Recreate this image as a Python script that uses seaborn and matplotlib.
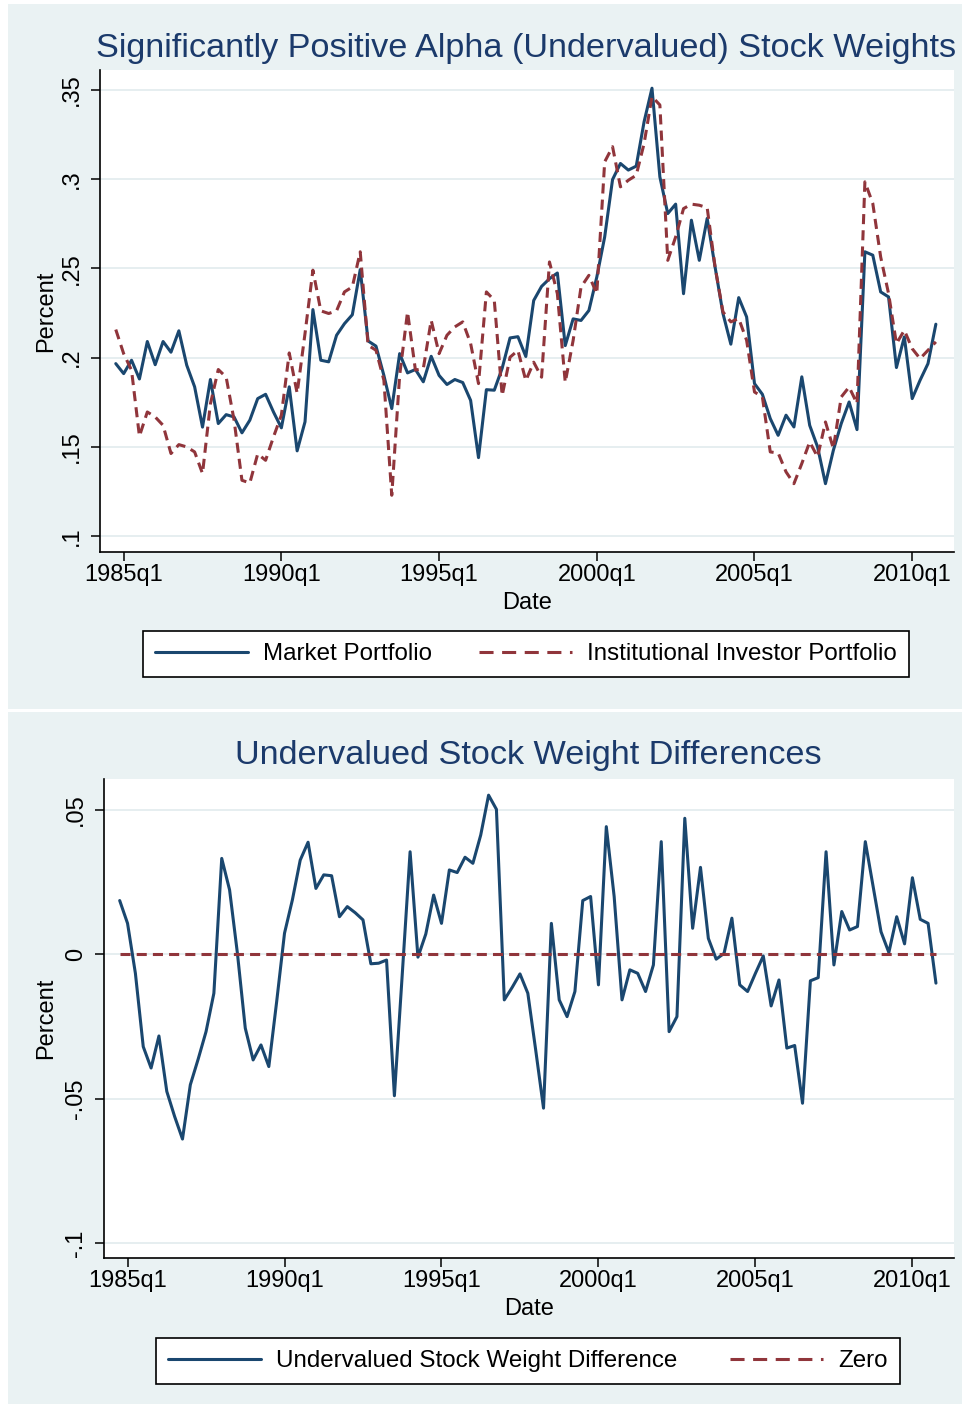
import numpy as np
import pandas as pd
import matplotlib
matplotlib.use("Agg")
import matplotlib.pyplot as plt
from matplotlib.patches import Rectangle
from matplotlib.lines import Line2D
import seaborn as sns

# ---------------- data ----------------
quarters = pd.period_range("1984Q4", "2010Q4", freq="Q")

market = [
    0.1966, 0.1910, 0.1985, 0.1880, 0.2090, 0.1960, 0.2090, 0.2030, 0.2150, 0.1957,
    0.1836, 0.1610, 0.1877, 0.1630, 0.1680, 0.1667, 0.1578, 0.1649, 0.1770, 0.1794,
    0.1695, 0.1606, 0.1836, 0.1477, 0.1640, 0.2269, 0.1985, 0.1976, 0.2125, 0.2190,
    0.2240, 0.2493, 0.2093, 0.2064, 0.1900, 0.1714, 0.2022, 0.1914, 0.1933, 0.1864,
    0.2007, 0.1900, 0.1849, 0.1877, 0.1860, 0.1760, 0.1439, 0.1820, 0.1817, 0.1940,
    0.2110, 0.2117, 0.2006, 0.2320, 0.2399, 0.2442, 0.2474, 0.2067, 0.2217, 0.2208,
    0.2264, 0.2451, 0.2676, 0.2998, 0.3088, 0.3051, 0.3073, 0.3322, 0.3510, 0.3013,
    0.2807, 0.2860, 0.2358, 0.2770, 0.2545, 0.2780, 0.2508, 0.2247, 0.2075, 0.2336,
    0.2228, 0.1854, 0.1794, 0.1658, 0.1564, 0.1677, 0.1611, 0.1892, 0.1620, 0.1499,
    0.1293, 0.1480, 0.1630, 0.1751, 0.1596, 0.2593, 0.2574, 0.2368, 0.2340, 0.1944,
    0.2116, 0.1770, 0.1873, 0.1966, 0.2187,
]

institutional = [
    0.2157, 0.2022, 0.1929, 0.1559, 0.1695, 0.1667, 0.1620, 0.1462, 0.1512, 0.1499,
    0.1471, 0.1350, 0.1740, 0.1933, 0.1890, 0.1650, 0.1312, 0.1297, 0.1460, 0.1424,
    0.1555, 0.1677, 0.2026, 0.1800, 0.2135, 0.2490, 0.2262, 0.2247, 0.2262, 0.2368,
    0.2396, 0.2593, 0.2069, 0.2041, 0.1873, 0.1228, 0.1900, 0.2256, 0.1930, 0.1938,
    0.2209, 0.2022, 0.2125, 0.2172, 0.2200, 0.2079, 0.1854, 0.2368, 0.2321, 0.1787,
    0.2002, 0.2040, 0.1871, 0.1974, 0.1890, 0.2536, 0.2358, 0.1861, 0.2096, 0.2395,
    0.2461, 0.2358, 0.3097, 0.3182, 0.2957, 0.2994, 0.3022, 0.3200, 0.3463, 0.3416,
    0.2545, 0.2676, 0.2835, 0.2860, 0.2854, 0.2840, 0.2508, 0.2256, 0.2200, 0.2219,
    0.2097, 0.1807, 0.1779, 0.1471, 0.1465, 0.1359, 0.1293, 0.1406, 0.1527, 0.1443,
    0.1639, 0.1490, 0.1779, 0.1835, 0.1742, 0.2985, 0.2864, 0.2564, 0.2359, 0.2078,
    0.2153, 0.2050, 0.1994, 0.2041, 0.2088,
]

difference = [
    0.0186, 0.0107, -0.0066, -0.0320, -0.0394, -0.0283, -0.0475, -0.0562, -0.0640, -0.0452,
    -0.0363, -0.0268, -0.0135, 0.0332, 0.0223, 0.0003, -0.0256, -0.0366, -0.0314, -0.0389,
    -0.0164, 0.0073, 0.0188, 0.0326, 0.0388, 0.0228, 0.0275, 0.0272, 0.0130, 0.0165,
    0.0144, 0.0119, -0.0033, -0.0031, -0.0020, -0.0490, -0.0070, 0.0355, -0.0010, 0.0070,
    0.0205, 0.0107, 0.0292, 0.0283, 0.0336, 0.0315, 0.0413, 0.0551, 0.0502, -0.0158,
    -0.0115, -0.0068, -0.0135, -0.0331, -0.0533, 0.0107, -0.0158, -0.0216, -0.0129, 0.0186,
    0.0200, -0.0106, 0.0442, 0.0200, -0.0158, -0.0054, -0.0066, -0.0129, -0.0037, 0.0390,
    -0.0268, -0.0216, 0.0471, 0.0090, 0.0301, 0.0055, -0.0017, 0.0003, 0.0125, -0.0106,
    -0.0129, -0.0066, -0.0006, -0.0179, -0.0089, -0.0325, -0.0316, -0.0516, -0.0092, -0.0081,
    0.0355, -0.0037, 0.0148, 0.0084, 0.0096, 0.0390, 0.0234, 0.0078, 0.0006, 0.0130,
    0.0036, 0.0265, 0.0121, 0.0107, -0.0100,
]

zero_line = [0.0] * len(quarters)

top_yticks = [0.10, 0.15, 0.20, 0.25, 0.30, 0.35]
top_ylabels = [".1", ".15", ".2", ".25", ".3", ".35"]
bot_yticks = [-0.10, -0.05, 0.0, 0.05]
bot_ylabels = ["-.1", "-.05", "0", ".05"]
xtick_labels = ["1985q1", "1990q1", "1995q1", "2000q1", "2005q1", "2010q1"]

top_title = "Significantly Positive Alpha (Undervalued) Stock Weights"
bot_title = "Undervalued Stock Weight Differences"
lab_market = "Market Portfolio"
lab_inst = "Institutional Investor Portfolio"
lab_diff = "Undervalued Stock Weight Difference"
lab_zero = "Zero"

# ---------------- style ----------------
sns.set_theme(style="ticks")
plt.rcParams["font.family"] = ["Liberation Sans", "DejaVu Sans"]

NAVY = "#1A476F"
MAROON = "#90353B"
BG = "#EAF2F3"
GRID = "#E4EDEF"
TITLE_C = "#1B3A6B"
FS = 17
LEG_FS = 17.4
TITLE_FS = 24.7
LW = 2.2
DASH = (3.3, 2.0)
LEG_DASH = (4.6, 2.8)

def stata_q(p):
    return (p.year - 1960) * 4 + p.quarter - 1

tq = [stata_q(p) for p in quarters]
xt_pos = [stata_q(pd.Period(s.upper(), freq="Q")) for s in xtick_labels]
n = len(tq)

top_df = pd.DataFrame({
    "tq": tq * 2,
    "value": market + institutional,
    "series": [lab_market] * n + [lab_inst] * n,
})
bot_df = pd.DataFrame({
    "tq": tq * 2,
    "value": difference + zero_line,
    "series": [lab_diff] * n + [lab_zero] * n,
})

W, H = 964, 1407
fig = plt.figure(figsize=(W / 100, H / 100), dpi=100, facecolor="white")

def fx(px):
    return px / W

def fy(py):
    return 1 - py / H

# panel backgrounds
for (x0, y0, x1, y1) in [(8, 4, 962, 709), (8, 712, 962, 1404)]:
    fig.add_artist(Rectangle((fx(x0), fy(y1)), fx(x1) - fx(x0), fy(y0) - fy(y1),
                             transform=fig.transFigure, facecolor=BG,
                             edgecolor="none", zorder=-10))

ax1 = fig.add_axes([fx(100), fy(552), fx(954) - fx(100), fy(70) - fy(552)])
ax2 = fig.add_axes([fx(104), fy(1258), fx(954) - fx(104), fy(779) - fy(1258)])

sns.lineplot(data=top_df, x="tq", y="value", hue="series", style="series",
             palette={lab_market: NAVY, lab_inst: MAROON},
             dashes={lab_market: "", lab_inst: DASH},
             linewidth=LW, errorbar=None, legend=False, ax=ax1)
sns.lineplot(data=bot_df, x="tq", y="value", hue="series", style="series",
             palette={lab_diff: NAVY, lab_zero: MAROON},
             dashes={lab_diff: "", lab_zero: DASH},
             linewidth=LW, errorbar=None, legend=False, ax=ax2)

def style_axes(ax, yticks, ylabels, ylim):
    ax.set_facecolor("white")
    ax.set_xlim(97.0, 205.3)
    ax.set_ylim(*ylim)
    ax.set_xticks(xt_pos)
    ax.set_xticklabels(xtick_labels)
    ax.set_yticks(yticks)
    ax.set_yticklabels(ylabels, rotation=90, va="center")
    ax.grid(axis="y", color=GRID, linewidth=1.3)
    ax.grid(axis="x", visible=False)
    ax.set_axisbelow(True)
    sns.despine(ax=ax, top=True, right=True)
    for sp in ("left", "bottom"):
        ax.spines[sp].set_color("black")
        ax.spines[sp].set_linewidth(1.2)
    ax.tick_params(axis="both", direction="out", length=6.5, width=1.1,
                   color="black", labelsize=FS, labelcolor="black")
    ax.tick_params(axis="x", pad=2)
    ax.tick_params(axis="y", pad=5.5)
    ax.set_xlabel("Date", fontsize=FS, color="black")
    ax.set_ylabel("Percent", fontsize=FS, color="black")

style_axes(ax1, top_yticks, top_ylabels, (0.091, 0.3612))
style_axes(ax2, bot_yticks, bot_ylabels, (-0.1052, 0.0607))
ax1.xaxis.set_label_coords(0.5, -0.082)
ax2.xaxis.set_label_coords(0.5, -0.0845)
ax1.yaxis.set_label_coords(-0.050, 0.5)
ax2.yaxis.set_label_coords(-0.055, 0.5)

# titles
fig.text(fx(526.5), fy(57), top_title, ha="center", va="baseline",
         fontsize=TITLE_FS, color=TITLE_C)
fig.text(fx(528.5), fy(764), bot_title, ha="center", va="baseline",
         fontsize=TITLE_FS, color=TITLE_C)

# legends
def make_legend(handles, labels, cx, cy, colspace):
    leg = fig.legend(handles, labels, loc="center",
                     bbox_to_anchor=(fx(cx), fy(cy)), ncol=2, frameon=True,
                     fancybox=False, edgecolor="black", facecolor="white",
                     framealpha=1, fontsize=LEG_FS, handlelength=3.85,
                     handletextpad=0.62, columnspacing=colspace,
                     borderpad=0.5, borderaxespad=0)
    leg.get_frame().set_linewidth(1.2)
    for t in leg.get_texts():
        t.set_color("black")
    return leg

h_solid = Line2D([], [], color=NAVY, linewidth=LW)
h_dash = Line2D([], [], color=MAROON, linewidth=LW, dashes=LEG_DASH)
make_legend([h_solid, h_dash], [lab_market, lab_inst], 526, 654, 1.95)
h_solid2 = Line2D([], [], color=NAVY, linewidth=LW)
h_dash2 = Line2D([], [], color=MAROON, linewidth=LW, dashes=LEG_DASH)
make_legend([h_solid2, h_dash2], [lab_diff, lab_zero], 528, 1361, 2.2)

fig.savefig("out.png", dpi=100, facecolor="white")
